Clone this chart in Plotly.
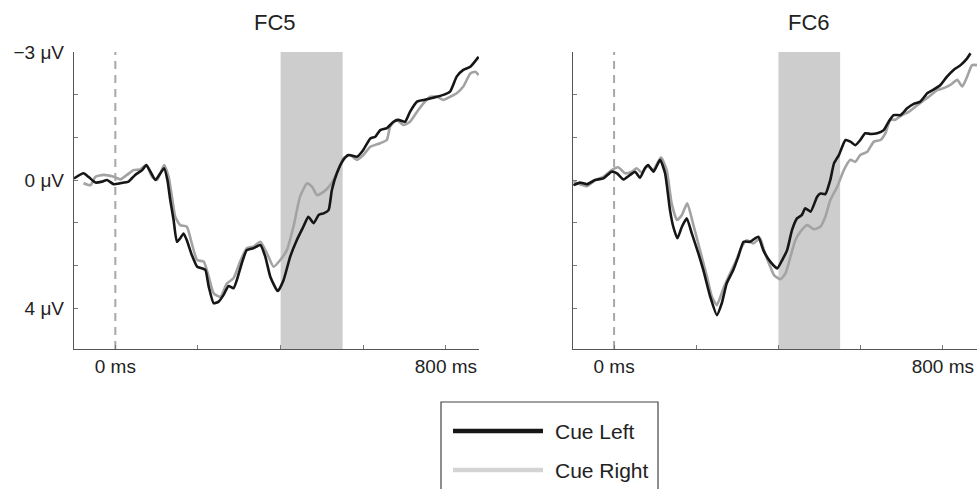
import plotly.graph_objects as go

W, H = 977, 489

# ---------------- data (time in ms, amplitude in µV; negative is up) ----------------
fc5_left_t = [-100, -77, -65, -48, -32, -20, -4, 12, 32, 48, 65, 75, 85, 97, 109, 118, 126, 133, 141, 149,
              157, 165, 173, 185, 198, 210, 218, 226, 238, 250, 262, 274, 286, 294, 306, 318, 334, 351, 363,
              375, 393, 407, 423, 439, 455, 467, 480, 492, 504, 516, 524, 536, 552, 564, 585, 600, 617, 629,
              641, 657, 673, 685, 701, 713, 730, 746, 762, 778, 794, 810, 826, 842, 859, 879]
fc5_left_v = [-0.05, -0.21, -0.10, 0.08, 0.05, 0.00, 0.13, 0.10, 0.05, -0.16, -0.31, -0.47, -0.26, 0.00, -0.21,
              -0.37, 0.00, 0.63, 1.25, 1.93, 1.82, 1.67, 1.88, 2.34, 2.71, 2.76, 2.81, 3.33, 3.85, 3.80, 3.59,
              3.31, 3.38, 3.13, 2.60, 2.19, 2.13, 2.03, 2.40, 3.02, 3.47, 3.13, 2.40, 1.88, 1.46, 1.15, 1.35,
              1.09, 1.04, 0.94, 0.31, -0.21, -0.63, -0.78, -0.73, -0.94, -1.30, -1.35, -1.56, -1.62, -1.82,
              -1.88, -1.82, -2.13, -2.45, -2.50, -2.55, -2.60, -2.66, -2.76, -3.23, -3.44, -3.54, -3.85]

fc5_right_t = [-77, -60, -48, -28, -4, 12, 28, 44, 60, 75, 89, 101, 118, 129, 137, 145, 157, 173, 185, 198,
               214, 226, 238, 254, 270, 286, 302, 318, 334, 351, 367, 383, 399, 415, 431, 447, 464, 476, 488,
               504, 520, 536, 552, 568, 585, 600, 617, 641, 657, 665, 681, 697, 713, 730, 746, 762, 778, 794,
               810, 826, 842, 859, 871, 879]
fc5_right_v = [0.10, 0.16, -0.10, -0.16, -0.10, -0.02, -0.16, -0.31, -0.33, -0.47, -0.10, 0.00, -0.47, -0.10,
               0.52, 1.15, 1.41, 1.46, 1.98, 2.50, 2.55, 3.02, 3.54, 3.65, 3.23, 3.07, 2.55, 2.13, 2.08, 1.93,
               2.29, 2.71, 2.50, 2.19, 1.46, 0.52, 0.10, 0.21, 0.47, 0.37, 0.16, -0.21, -0.68, -0.78, -0.63,
               -0.78, -1.04, -1.15, -1.25, -1.67, -1.88, -1.72, -1.82, -2.13, -2.40, -2.60, -2.60, -2.50, -2.60,
               -2.71, -2.92, -3.33, -3.38, -3.28]

fc6_left_t = [-99, -83, -66, -46, -26, -6, 7, 23, 39, 51, 63, 75, 83, 96, 112, 124, 136, 144, 154, 165, 177,
              189, 205, 217, 234, 250, 262, 274, 290, 302, 315, 331, 343, 351, 363, 380, 397, 409, 421, 433,
              445, 457, 465, 478, 494, 502, 514, 526, 535, 547, 563, 575, 587, 599, 611, 624, 640, 656, 668,
              680, 697, 713, 729, 745, 762, 778, 794, 810, 826, 843, 859, 867]
fc6_left_v = [0.16, 0.08, 0.13, 0.00, -0.05, -0.26, -0.21, -0.02, -0.16, -0.26, -0.07, -0.37, -0.47, -0.26,
              -0.63, -0.21, 0.94, 1.46, 1.82, 1.46, 1.20, 1.67, 2.29, 2.81, 3.65, 4.22, 3.85, 3.23, 2.81, 2.40,
              1.93, 1.93, 1.82, 1.77, 2.19, 2.55, 2.76, 2.50, 2.19, 1.56, 1.20, 1.09, 0.88, 0.99, 0.52, 0.42,
              0.44, 0.00, -0.52, -0.78, -1.25, -1.20, -1.09, -1.25, -1.46, -1.44, -1.46, -1.56, -1.82, -2.03,
              -2.03, -2.24, -2.38, -2.45, -2.71, -2.83, -2.97, -3.23, -3.44, -3.59, -3.80, -3.96]

fc6_right_t = [-99, -83, -66, -46, -26, -6, 10, 27, 43, 55, 67, 80, 96, 114, 128, 140, 153, 165, 178, 193,
               209, 226, 238, 250, 266, 282, 294, 311, 323, 339, 355, 367, 380, 389, 405, 417, 429, 441, 453,
               470, 486, 502, 514, 526, 543, 559, 575, 587, 599, 616, 632, 648, 660, 672, 684, 701, 717, 733,
               749, 766, 786, 802, 818, 835, 847, 859, 871, 883]
fc6_right_v = [0.05, 0.13, 0.19, 0.00, -0.10, -0.31, -0.40, -0.21, -0.26, -0.37, -0.23, -0.42, -0.33, -0.71,
               -0.31, 0.73, 1.25, 1.09, 0.73, 1.41, 2.19, 3.02, 3.65, 3.91, 3.38, 2.92, 2.60, 2.08, 1.88, 1.98,
               1.82, 2.29, 2.71, 2.97, 3.10, 2.92, 2.40, 1.88, 1.62, 1.41, 1.54, 1.46, 1.15, 0.63, 0.21, -0.31,
               -0.63, -0.57, -0.78, -0.88, -1.20, -1.25, -1.46, -1.88, -1.88, -2.03, -2.13, -2.29, -2.45, -2.60,
               -2.81, -2.87, -2.97, -3.13, -2.92, -3.23, -3.59, -3.59]

panel_titles = ["FC5", "FC6"]
series_names = ["Cue Left", "Cue Right"]
x_tickvals = [0, 200, 400, 600, 800]
x_ticktext = ["0 ms", "", "", "", "800 ms"]
y_tickvals = [-4, -8/3, -4/3, 0, 4/3, 8/3, 4]
y_ticktext = ["\u22123 \u03bcV", "", "", "0 \u03bcV", "", "", "4 \u03bcV"]
window_ms = [400, 550]
# -------------------------------------------------------------------------------------

BLACK = "#161616"
GRAY = "#a3a3a3"
FONT = "Liberation Sans, Arial, sans-serif"

def px_x(p):
    return p / W

def px_y(p):
    return 1 - p / H

fig = go.Figure()

panels = [
    ("x", "y", fc5_left_t, fc5_left_v, fc5_right_t, fc5_right_v),
    ("x2", "y2", fc6_left_t, fc6_left_v, fc6_right_t, fc6_right_v),
]
for xa, ya, lt, lv, rt, rv in panels:
    fig.add_trace(go.Scatter(x=rt, y=rv, mode="lines", name=series_names[1], xaxis=xa, yaxis=ya,
                             line=dict(color=GRAY, width=2.6, shape="spline", smoothing=0.5),
                             showlegend=False, hoverinfo="skip"))
    fig.add_trace(go.Scatter(x=lt, y=lv, mode="lines", name=series_names[0], xaxis=xa, yaxis=ya,
                             line=dict(color=BLACK, width=2.6, shape="spline", smoothing=0.5),
                             showlegend=False, hoverinfo="skip"))

y_dom = [px_y(349), px_y(52)]
axis_common = dict(showgrid=False, zeroline=False, showline=True, linecolor="#555555", linewidth=1.3,
                   ticks="inside", ticklen=4, tickcolor="#777777", tickwidth=1, automargin=False,
                   tickfont=dict(family=FONT, size=19, color="#222222"), fixedrange=True)

fig.update_layout(
    width=W, height=H, margin=dict(l=0, r=0, t=0, b=0, pad=0, autoexpand=False),
    paper_bgcolor="white", plot_bgcolor="rgba(0,0,0,0)",
    xaxis=dict(domain=[px_x(74), px_x(479)], range=[-100, 880], anchor="y",
               tickvals=x_tickvals, ticktext=x_ticktext, **axis_common),
    yaxis=dict(domain=y_dom, range=[5.28, -4], anchor="x",
               tickvals=y_tickvals, ticktext=y_ticktext, ticklabelstandoff=5, **axis_common),
    xaxis2=dict(domain=[px_x(573), 1.0], range=[-100, 883], anchor="y2",
                tickvals=x_tickvals, ticktext=x_ticktext, **axis_common),
    yaxis2=dict(domain=y_dom, range=[5.28, -4], anchor="x2",
                tickvals=y_tickvals, ticktext=[""] * len(y_tickvals), **axis_common),
)

shapes = []
for xa, ya in [("x", "y"), ("x2", "y2")]:
    shapes.append(dict(type="rect", xref=xa, yref=f"{ya} domain", x0=window_ms[0], x1=window_ms[1],
                       y0=0, y1=1, fillcolor="#cdcdcd", line=dict(width=0), layer="below"))
    shapes.append(dict(type="line", xref=xa, yref=f"{ya} domain", x0=0, x1=0, y0=0, y1=1,
                       line=dict(color="#a8a8a8", width=2, dash="8px,6px"), layer="below"))

# legend box (drawn manually)
shapes.append(dict(type="rect", xref="paper", yref="paper", x0=px_x(441), x1=px_x(658),
                   y0=px_y(495), y1=px_y(402), line=dict(color="#444444", width=1.2),
                   fillcolor="rgba(0,0,0,0)"))
shapes.append(dict(type="line", xref="paper", yref="paper", x0=px_x(453), x1=px_x(543),
                   y0=px_y(431), y1=px_y(431), line=dict(color=BLACK, width=4.5)))
shapes.append(dict(type="line", xref="paper", yref="paper", x0=px_x(453), x1=px_x(543),
                   y0=px_y(470), y1=px_y(470), line=dict(color="#d4d4d4", width=4.5)))
fig.update_layout(shapes=shapes)

annotations = [
    dict(text=panel_titles[0], x=px_x(275), y=px_y(22), xref="paper", yref="paper",
         showarrow=False, xanchor="center", yanchor="middle",
         font=dict(family=FONT, size=22, color="#222222")),
    dict(text=panel_titles[1], x=px_x(809), y=px_y(22), xref="paper", yref="paper",
         showarrow=False, xanchor="center", yanchor="middle",
         font=dict(family=FONT, size=22, color="#222222")),
    dict(text=series_names[0], x=px_x(553), y=px_y(431), xref="paper", yref="paper",
         showarrow=False, xanchor="left", yanchor="middle",
         font=dict(family=FONT, size=21, color="#222222")),
    dict(text=series_names[1], x=px_x(553), y=px_y(470), xref="paper", yref="paper",
         showarrow=False, xanchor="left", yanchor="middle",
         font=dict(family=FONT, size=21, color="#222222")),
]
fig.update_layout(annotations=annotations)

fig.write_html("out.html", config={"displayModeBar": False},
               post_script="document.body.style.margin='0px';document.body.style.overflow='hidden';")
